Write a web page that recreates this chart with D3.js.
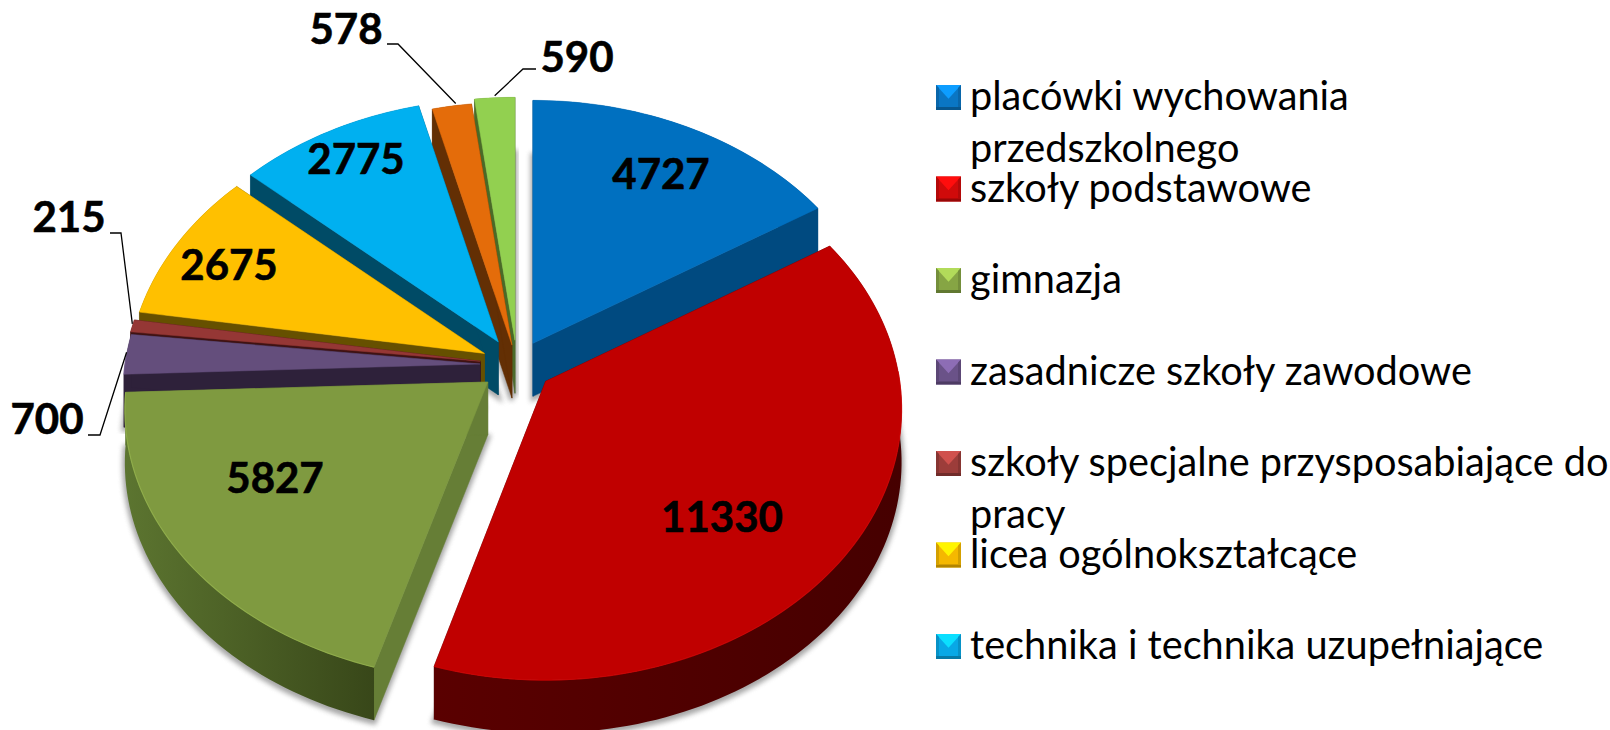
<!DOCTYPE html>
<html>
<head>
<meta charset="utf-8">
<script src="https://cdn.jsdelivr.net/npm/d3@7"></script>
<style>
  body { margin: 0; background: #fff; }
  text { font-family: Lato, sans-serif; fill: #000; }
</style>
</head>
<body>
<svg id="chart" width="1610" height="730"></svg>
<script>
// values clockwise from 12 o'clock
const values = [4727, 11330, 5827, 700, 215, 2675, 2775, 578, 590];

// only the first seven slices have a legend entry in the picture
const legendLabels = [
  ['placówki wychowania', 'przedszkolnego'],
  ['szkoły podstawowe'],
  ['gimnazja'],
  ['zasadnicze szkoły zawodowe'],
  ['szkoły specjalne przysposabiające do', 'pracy'],
  ['licea ogólnokształcące'],
  ['technika i technika uzupełniające']
];

// slice styles
const topColors = ['#0070c0', '#c00000', '#7f9a40', '#644e7c', '#953735', '#ffc000', '#00b0f0', '#e46c0a', '#92d050'];
const sideColors = ['#004a80', '#4a0000', '#667e36', '#2e213a', '#3f1212', '#665000', '#004b66', '#632f04', '#4a6a28'];
const wallLeft = ['#004a80', '#5a0000', '#5c7530', '#2e213a', '#3f1212', '#665000', '#004b66', '#632f04', '#4a6a28'];
const wallRight = ['#004a80', '#460000', '#384719', '#2e213a', '#3f1212', '#665000', '#004b66', '#632f04', '#4a6a28'];
const explode = [33, 36, 37, 37, 37, 36, 36, 27, 33];
const sliceRadius = [355, 354, 361, 355, 356, 355, 355, 355, 355];
const swatchColors = ['#0a76c4', '#d00a0a', '#86a544', '#6a5288', '#9c3d3a', '#f5b800', '#08a8e6'];

// label anchors: centre x, baseline y
const labelX = [661, 722, 275, 47, 69, 229, 356, 346, 577];
const labelY = [189, 532, 493, 434, 232, 280, 174, 44, 72];
// leader lines go from a bend next to the label to the slice rim
const leaderBend = { 3: [[88, 435], [100, 435]], 4: [[110, 233], [121, 233]], 7: [[387, 44], [398, 44]], 8: [[536, 69], [523, 69]] };

const cx = 517, cy = 365;
const tilt = 268, persp = 0.103, depth = 53;
const paintOrder = [8, 7, 6, 5, 4, 3, 2, 0, 1];

const svg = d3.select('#chart');
const defs = svg.append('defs');
defs.append('filter').attr('id', 'blur')
  .attr('x', '-10%').attr('y', '-10%').attr('width', '120%').attr('height', '120%')
  .append('feGaussianBlur').attr('stdDeviation', 2.5);

const slices = d3.pie().sort(null).value(d => d)(values);
const line = d3.line();

// tilted disc with a little perspective, angle 0 at the back
function project(a, radius) {
  const s = 1 / (1 + persp * Math.cos(a));
  return [radius * Math.sin(a) * s, -tilt * Math.cos(a) * s];
}

function sliceGeometry(d) {
  const mid = (d.startAngle + d.endAngle) / 2;
  const e = explode[d.index];
  const ox = cx + e * Math.sin(mid);
  const oy = cy - e * Math.cos(mid) * 0.75;
  const n = Math.max(4, Math.ceil((d.endAngle - d.startAngle) * 40));
  const angles = d3.range(n + 1).map(t => d.startAngle + (d.endAngle - d.startAngle) * t / n);
  const rim = angles.map(a => {
    const p = project(a, sliceRadius[d.index]);
    return [ox + p[0], oy + p[1]];
  });
  return { apex: [ox, oy], rim, angles };
}

const down = p => [p[0], p[1] + depth];

paintOrder.forEach(i => {
  const d = slices[i];
  const { apex, rim, angles } = sliceGeometry(d);
  const first = rim[0], last = rim[rim.length - 1];
  const g = svg.append('g');

  // soft shadow round the underside
  g.append('path')
    .attr('d', line([apex, ...rim].map(down).map(p => [p[0], p[1] + 2])) + 'Z')
    .attr('fill', '#777').attr('stroke', '#777').attr('stroke-width', 5)
    .attr('opacity', 0.65).attr('filter', 'url(#blur)');

  // radial walls
  [first, last].forEach(p => {
    g.append('path')
      .attr('d', line([apex, p, down(p), down(apex)]) + 'Z')
      .attr('fill', sideColors[i]).attr('stroke', sideColors[i]).attr('stroke-width', 0.5);
  });

  // outer wall
  const x0 = d3.min(rim, p => p[0]), x1 = d3.max(rim, p => p[0]);
  const grad = defs.append('linearGradient').attr('id', 'wall' + i)
    .attr('gradientUnits', 'userSpaceOnUse')
    .attr('x1', x0).attr('x2', x1).attr('y1', 0).attr('y2', 0);
  grad.append('stop').attr('offset', 0).attr('stop-color', wallLeft[i]);
  grad.append('stop').attr('offset', 1).attr('stop-color', wallRight[i]);
  g.append('path')
    .attr('d', line([...rim, ...rim.slice().reverse().map(down)]) + 'Z')
    .attr('fill', `url(#wall${i})`);

  // top face
  g.append('path')
    .attr('d', line([apex, ...rim]) + 'Z')
    .attr('fill', topColors[i]).attr('stroke', topColors[i]).attr('stroke-width', 0.5);

  // light edge on the front part of the rim
  const front = rim.filter((p, j) => Math.cos(angles[j]) < 0.05);
  if (front.length > 1) {
    g.append('path')
      .attr('d', line(front))
      .attr('fill', 'none')
      .attr('stroke', d3.color(topColors[i]).brighter(i === 1 ? 0.2 : 0.45))
      .attr('stroke-width', 1.2).attr('opacity', 0.7);
  }
});

// leader lines
Object.keys(leaderBend).forEach(k => {
  const d = slices[+k];
  const { rim } = sliceGeometry(d);
  const tip = rim[Math.floor(rim.length / 2)];
  svg.append('path')
    .attr('d', line([...leaderBend[k], [tip[0], tip[1] - 2]]))
    .attr('fill', 'none').attr('stroke', '#000').attr('stroke-width', 1.3);
});

// value labels
svg.selectAll('.value')
  .data(values)
  .join('text')
  .attr('class', 'value')
  .attr('x', (d, i) => labelX[i])
  .attr('y', (d, i) => labelY[i])
  .attr('text-anchor', 'middle')
  .attr('font-size', 42)
  .attr('font-weight', 700)
  .attr('stroke', '#000')
  .attr('stroke-width', 0.6)
  .text(d => d);

// legend
const legendY = d3.scaleLinear().domain([0, legendLabels.length - 1]).range([110, 659]);
const legendX = 936, swatch = 25, lineGap = 52;

legendLabels.forEach((lines, i) => {
  const y = legendY(i);
  const c = d3.color(swatchColors[i]);
  const g = svg.append('g').attr('transform', `translate(${legendX},${y - swatch})`);
  const mx = swatch / 2, my = swatch * 0.55, inset = 3;
  g.append('rect').attr('width', swatch).attr('height', swatch).attr('fill', c);
  // bevelled faces
  g.append('path').attr('d', line([[0, 0], [swatch, 0], [mx, my]]) + 'Z').attr('fill', c.brighter(0.8));
  g.append('path').attr('d', line([[0, swatch - inset], [swatch, swatch - inset], [swatch, swatch], [0, swatch]]) + 'Z').attr('fill', c.darker(0.9));
  g.append('path').attr('d', line([[0, 0], [inset, inset], [inset, swatch - inset], [0, swatch - inset]]) + 'Z').attr('fill', c.darker(0.4));
  g.append('path').attr('d', line([[swatch, 0], [swatch - inset, inset], [swatch - inset, swatch - inset], [swatch, swatch - inset]]) + 'Z').attr('fill', c.darker(0.4));

  lines.forEach((t, j) => {
    svg.append('text')
      .attr('x', 970)
      .attr('y', y + j * lineGap)
      .attr('font-size', 39.7)
      .text(t);
  });
});
</script>
</body>
</html>
